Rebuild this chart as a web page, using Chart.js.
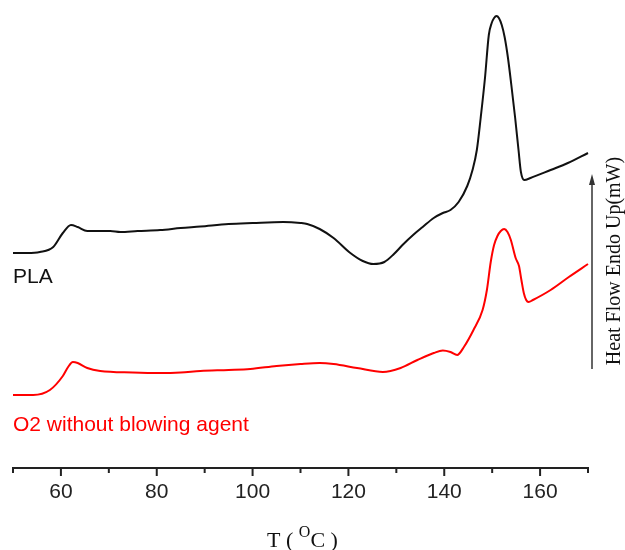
<!DOCTYPE html>
<html>
<head>
<meta charset="utf-8">
<title>DSC curves</title>
<script src="https://cdn.jsdelivr.net/npm/chart.js@4.4.0/dist/chart.umd.min.js"></script>
<style>
  body { margin: 0; background: #fff; }
</style>
</head>
<body>
<canvas id="dsc" width="625" height="550"></canvas>
<script>
// temperature (deg C) and heat flow (arbitrary units, endo up)
const plaTemp = [50, 53, 55.6, 58.4, 60.4, 62.1, 63.5, 65.5, 70.3, 72.4, 76, 80.7, 85, 89.1, 95, 100, 106.4, 110, 111.4, 114, 116.9, 120.4, 123, 125.2, 127.5, 129.5, 131.5, 133.5, 135.5, 137.8, 139.7, 141.3, 143, 144.8, 145.9, 146.8, 147.6, 148.5, 149.3, 149.9, 150.4, 150.9, 151.4, 152, 152.6, 153.3, 154, 154.8, 155.5, 156, 156.7, 158, 162.2, 165.8, 170];
const plaHeat = [215, 215, 216, 221, 235, 243, 241, 237, 237, 236, 237, 238, 240, 241.5, 244, 245, 246, 245, 244, 239, 230, 215, 207, 204, 206, 214, 224, 233, 241, 250, 255, 258, 266, 282, 298, 318, 350, 390, 433, 445, 450, 452, 450, 443, 431, 410, 383, 350, 318, 296, 288, 290, 298, 305, 315];

const o2Temp = [50, 54.2, 57.7, 60.4, 61.5, 62.5, 63.5, 65.5, 68.2, 75, 80.7, 85, 89.1, 95, 99.5, 105, 110, 114, 116.9, 121.8, 127.2, 130.9, 134.4, 137.8, 139.7, 141.3, 142.7, 144.1, 146.1, 148, 148.9, 149.7, 150.4, 151.1, 151.8, 152.5, 153.2, 153.9, 154.9, 155.6, 156.1, 156.6, 157.1, 157.6, 158.5, 162.2, 166, 170];
const o2Heat = [73, 73, 78, 92, 101, 106, 105, 100, 97, 95.5, 95, 95.5, 97, 98, 99, 102, 104, 105, 104, 100, 96, 100, 108, 115, 117.5, 116, 113, 121, 138, 158, 178, 206, 223, 232, 237, 239, 236, 228, 210, 202, 188, 175, 168, 166, 168, 178, 191, 204];

const tempTicks = [60, 80, 100, 120, 140, 160];
const seriesNames = ['PLA', 'O2 without blowing agent'];
const yTitle = 'Heat Flow Endo Up(mW)';

const sansFont = 'Arial, "Liberation Sans", sans-serif';
const serifFont = '"Times New Roman", "Liberation Serif", serif';

function toPoints(xs, ys) {
  return xs.map((x, i) => ({ x: x, y: ys[i] }));
}

// ticks, x title with superscript, curve labels, the arrow and its label
const decorations = {
  id: 'decorations',
  afterDraw(chart) {
    const ctx = chart.ctx;
    const x = chart.scales.x;
    const y = chart.scales.y;
    const area = chart.chartArea;
    ctx.save();

    ctx.strokeStyle = '#222';
    ctx.lineWidth = 2;
    x.ticks.forEach(t => {
      const px = x.getPixelForValue(t.value);
      const len = tempTicks.includes(t.value) ? 8 : 5;
      ctx.beginPath();
      ctx.moveTo(px, x.top);
      ctx.lineTo(px, x.top + len);
      ctx.stroke();
    });

    // T ( oC )
    ctx.fillStyle = '#111';
    ctx.textBaseline = 'alphabetic';
    ctx.textAlign = 'left';
    const big = '22px ' + serifFont;
    const small = '16px ' + serifFont;
    ctx.font = big;
    const w1 = ctx.measureText('T ( ').width;
    const w3 = ctx.measureText('C )').width;
    ctx.font = small;
    const w2 = ctx.measureText('O').width;
    const base = 547;
    let sx = (area.left + area.right) / 2 + 2 - (w1 + w2 + w3) / 2;
    ctx.font = big;
    ctx.fillText('T ( ', sx, base);
    sx += w1;
    ctx.font = small;
    ctx.fillText('O', sx, base - 10);
    sx += w2;
    ctx.font = big;
    ctx.fillText('C )', sx, base);

    // curve labels
    ctx.font = '21px ' + sansFont;
    ctx.fillStyle = '#111';
    ctx.fillText(seriesNames[0], area.left, y.getPixelForValue(185));
    ctx.fillStyle = '#ff0000';
    ctx.fillText(seriesNames[1], area.left, y.getPixelForValue(37));

    // arrow
    const ax = area.right + 4;
    ctx.strokeStyle = '#333';
    ctx.fillStyle = '#333';
    ctx.lineWidth = 1.5;
    ctx.beginPath();
    ctx.moveTo(ax, 369);
    ctx.lineTo(ax, 183);
    ctx.stroke();
    ctx.beginPath();
    ctx.moveTo(ax, 174);
    ctx.lineTo(ax - 3, 185);
    ctx.lineTo(ax + 3, 185);
    ctx.closePath();
    ctx.fill();

    ctx.translate(620, 261);
    ctx.rotate(-Math.PI / 2);
    ctx.textAlign = 'center';
    ctx.fillStyle = '#111';
    ctx.font = '20px ' + serifFont;
    ctx.fillText(yTitle, 0, 0);

    ctx.restore();
  }
};

const chart = new Chart(document.getElementById('dsc'), {
  type: 'line',
  data: {
    datasets: [
      { label: seriesNames[0], data: toPoints(plaTemp, plaHeat), borderColor: '#111', clip: false },
      { label: seriesNames[1], data: toPoints(o2Temp, o2Heat), borderColor: '#ff0000', clip: false }
    ]
  },
  options: {
    responsive: false,
    animation: false,
    events: [],
    layout: { padding: { left: 13, right: 37, top: 0, bottom: 0 } },
    plugins: { legend: { display: false }, tooltip: { enabled: false } },
    elements: {
      point: { radius: 0 },
      line: { borderWidth: 2, cubicInterpolationMode: 'monotone' }
    },
    scales: {
      x: {
        type: 'linear',
        min: 50,
        max: 170,
        afterFit(scale) { scale.height = 82; },
        grid: { display: false, drawTicks: false },
        border: { display: true, color: '#222', width: 2 },
        ticks: {
          stepSize: 10,
          padding: 12,
          autoSkip: false,
          maxRotation: 0,
          color: '#222',
          font: { family: sansFont, size: 21 },
          callback: v => tempTicks.includes(v) ? String(v) : ''
        }
      },
      y: { display: false, min: 0, max: 468 }
    }
  },
  plugins: [decorations]
});
</script>
</body>
</html>
